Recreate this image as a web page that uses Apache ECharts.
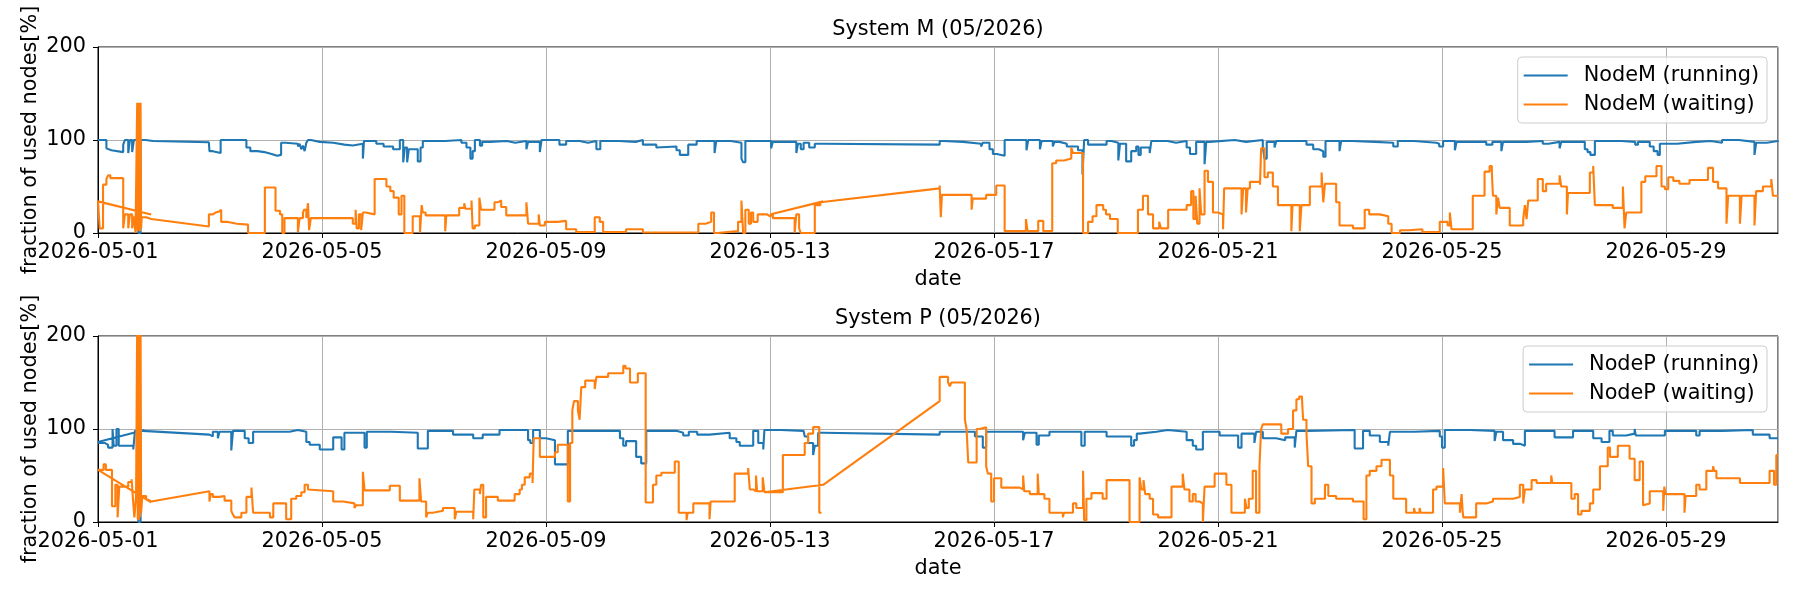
<!DOCTYPE html>
<html>
<head>
<meta charset="utf-8">
<script src="https://cdn.jsdelivr.net/npm/echarts@6.0.0/dist/echarts.min.js"></script>
<style>
  html, body { margin: 0; background: #fff; }
  #chart { width: 1800px; height: 600px; }
</style>
</head>
<body>
<div id="chart"></div>
<script>
// time in days since 2026-05-01 00:00, value in %
// [t, v] = step to v at t, [t, v, 'L'] = straight line to v (data gap), [t, null] = break
const mRun = [
  [0, 100], [0.15, 91], [0.18, 89], [0.24, 87], [0.45, 95], [0.48, 100], [0.54, 86], [0.57, 100],
  [0.61, 87], [0.64, 100], [0.72, 0], [0.76, 100], [0.85, 99], [0.98, 100], [1.98, 97.5, 'L'],
  [1.99, 88], [2.05, 86], [2.19, 100], [2.65, 92], [2.72, 88], [2.85, 87], [2.97, 85], [3.1, 83], [3.2, 84],
  [3.27, 97], [3.35, 96], [3.57, 93], [3.6, 96], [3.63, 90], [3.66, 94], [3.69, 88], [3.72, 97],
  [3.75, 100], [3.8, 98], [3.96, 97], [4.2, 95], [4.4, 94], [4.55, 96], [4.73, 80], [4.75, 99],
  [4.97, 96], [5.1, 93], [5.27, 90], [5.39, 100], [5.45, 76], [5.48, 92], [5.52, 76], [5.55, 90],
  [5.71, 77], [5.76, 92], [5.8, 99], [6.2, 100], [6.49, 97], [6.58, 92], [6.65, 80], [6.69, 88],
  [6.73, 100], [6.82, 94], [6.86, 98], [7.0, 99], [7.3, 97], [7.45, 99], [7.65, 90], [7.68, 98],
  [7.89, 87], [7.92, 100], [8.24, 95], [8.36, 99], [8.6, 97], [8.75, 99], [8.9, 90], [8.97, 99],
  [9.3, 98], [9.6, 100], [9.73, 95], [9.97, 92], [10.0, 93], [10.33, 89], [10.39, 84], [10.54, 95],
  [10.69, 99], [11.01, 86], [11.04, 99], [11.3, 97], [11.49, 80], [11.52, 76], [11.56, 99],
  [12.02, 91], [12.05, 98], [12.47, 86], [12.5, 96], [12.55, 90], [12.6, 97], [12.7, 92], [12.8, 96],
  [12.95, 94], [15.03, 95, 'L'],
  [15.03, 99], [15.1, 98], [15.45, 96], [15.77, 93], [15.8, 97], [15.92, 90], [15.98, 85], [16.05, 83],
  [16.19, 100], [16.58, 89], [16.61, 100], [16.82, 90], [16.85, 99], [17.05, 93], [17.08, 98],
  [17.17, 96], [17.3, 93], [17.5, 89], [17.58, 63], [17.61, 100], [17.68, 95], [18.01, 99], [18.1, 97],
  [18.22, 78], [18.25, 96], [18.36, 77], [18.45, 88], [18.54, 93], [18.58, 84], [18.62, 92],
  [18.78, 86], [18.81, 99], [19.1, 97], [19.25, 99], [19.44, 92], [19.5, 85], [19.61, 98], [19.76, 74],
  [19.79, 98], [19.85, 100], [20.3, 98], [20.5, 100], [20.8, 92], [20.83, 80], [20.87, 98], [21.01, 92],
  [21.04, 99], [21.58, 95], [21.7, 90], [21.8, 88], [21.88, 82], [21.92, 99], [22.17, 88], [22.2, 99],
  [22.4, 98], [22.8, 97], [23.13, 93], [23.21, 99], [23.5, 97], [23.9, 96], [23.95, 93], [24.02, 99],
  [24.23, 89], [24.26, 98], [24.79, 95], [24.9, 98], [25.06, 88], [25.09, 98], [25.5, 99], [25.8, 96],
  [25.9, 98], [26.1, 91], [26.13, 98], [26.55, 90], [26.6, 87], [26.65, 84], [26.73, 99], [27.2, 98],
  [27.45, 95], [27.5, 98], [27.71, 93], [27.78, 88], [27.85, 84], [27.89, 96], [28.2, 98], [28.54, 99],
  [28.8, 97], [29.0, 100], [29.3, 98], [29.58, 84], [29.61, 97], [29.8, 99], [30, 98]
];

const mWait = [
  [0, 34], [0.95, 20, 'L'], [0.95, null],
  [0, 35], [0.03, 5], [0.09, 52], [0.15, 58], [0.18, 62], [0.22, 59], [0.45, 5], [0.48, 20], [0.54, 5],
  [0.57, 20], [0.61, 5], [0.64, 18], [0.67, 0],
  [0.70, 140], [0.71, 2], [0.72, 140], [0.73, 3], [0.74, 140], [0.75, 2], [0.76, 140], [0.77, 5],
  [0.78, 17], [0.86, 15], [0.95, 16], [1.98, 7, 'L'],
  [1.98, 20], [2.05, 22], [2.1, 23], [2.16, 25], [2.2, 12], [2.3, 10], [2.48, 9], [2.68, 0],
  [2.98, 49], [3.17, 24], [3.25, 20], [3.29, 0], [3.33, 16], [3.57, 1], [3.6, 16], [3.66, 22],
  [3.68, 25], [3.72, 16], [3.75, 32], [3.77, 3], [3.8, 16], [4.55, 10], [4.6, 25], [4.62, 5],
  [4.66, 20], [4.7, 3], [4.73, 22], [4.78, 20], [4.94, 58], [5.15, 50], [5.22, 45], [5.28, 38],
  [5.37, 20], [5.42, 40], [5.47, 0], [5.62, 18], [5.75, 0], [5.78, 30], [5.8, 22], [5.85, 19],
  [6.2, 2], [6.22, 19], [6.45, 27], [6.54, 32], [6.56, 26], [6.67, 35], [6.69, 5], [6.73, 8],
  [6.81, 38], [6.84, 25], [7.08, 33], [7.14, 35], [7.2, 28], [7.29, 19], [7.65, 33], [7.68, 10],
  [7.87, 20], [7.89, 8], [7.98, 12], [8.21, 13], [8.36, 4], [8.54, 1], [8.87, 17], [8.96, 12],
  [9.02, 1], [9.43, 4], [9.73, 0.5], [10.72, 10], [10.85, 12], [10.95, 22], [11.0, 0], [11.06, 2],
  [11.43, 12], [11.49, 35], [11.52, 0], [11.56, 25], [11.62, 10], [11.66, 22], [11.7, 12],
  [11.78, 20], [11.95, 18], [12.0, 20], [12.05, 16], [12.44, 0], [12.47, 20], [12.52, 5], [12.55, 0],
  [12.8, 30], [12.9, 33], [15.03, 48, 'L'],
  [15.03, 51], [15.05, 17], [15.07, 41], [15.6, 25], [15.62, 37], [15.86, 41], [16.04, 51],
  [16.19, 2], [16.57, 15], [16.6, 2], [16.79, 13], [16.88, 2], [17.04, 75], [17.11, 78], [17.25, 80],
  [17.38, 92], [17.41, 86], [17.59, 0], [17.68, 12], [17.76, 18], [17.83, 30], [17.95, 25], [18.0, 20],
  [18.07, 15], [18.21, 0], [18.57, 25], [18.66, 40], [18.75, 20], [18.84, 5], [18.95, 12], [18.98, 5],
  [19.11, 25], [19.44, 30], [19.52, 45], [19.56, 15], [19.6, 40], [19.63, 10], [19.67, 48], [19.7, 20],
  [19.76, 67], [19.82, 55], [19.91, 22], [20.0, 20], [20.09, 4], [20.11, 48], [20.42, 20], [20.45, 48],
  [20.5, 22], [20.53, 48], [20.57, 55], [20.75, 52], [20.77, 91], [20.83, 60], [20.89, 65], [20.98, 50],
  [21.07, 30], [21.31, 2], [21.33, 30], [21.46, 2], [21.49, 30], [21.64, 50], [21.85, 65], [21.88, 33],
  [21.91, 53], [22.11, 33], [22.17, 8], [22.41, 5], [22.62, 25], [22.7, 20], [22.89, 18], [23.04, 10],
  [23.1, 0], [23.25, 3], [23.4, 4], [23.65, 1], [23.96, 12], [24.1, 8], [24.14, 22], [24.17, 4],
  [24.55, 40], [24.76, 66], [24.85, 72], [24.89, 65], [24.91, 40], [24.97, 20], [25.0, 38], [25.03, 27],
  [25.21, 8], [25.45, 15], [25.48, 30], [25.51, 15], [25.54, 35], [25.71, 58], [25.8, 45], [25.86, 53],
  [26.1, 62], [26.13, 50], [26.23, 20], [26.25, 43], [26.64, 65], [26.7, 72], [26.73, 30], [27.05, 27],
  [27.23, 50], [27.26, 5], [27.29, 22], [27.56, 55], [27.63, 61], [27.83, 72], [27.92, 50], [27.98, 47],
  [28.04, 60], [28.13, 56], [28.24, 53], [28.42, 57], [28.75, 70], [28.84, 55], [28.93, 48], [29.08, 10],
  [29.11, 40], [29.32, 10], [29.35, 40], [29.58, 8], [29.61, 45], [29.73, 50], [29.88, 58], [29.91, 40],
  [30, 40], [30, null],
  [12.0, 20], [12.95, 34, 'L']
];

const pRun = [
  [0, 86], [0.83, 99, 'L'], [0.83, null],
  [0, 85], [0.12, 83], [0.18, 80], [0.26, 100], [0.28, 82], [0.33, 100], [0.37, 82], [0.63, 78],
  [0.66, 98], [0.72, 0], [0.76, 98], [0.8, 100], [0.83, 99], [1.99, 94, 'L'],
  [1.99, 92], [2.05, 97], [2.14, 90], [2.17, 97], [2.38, 77], [2.41, 98], [2.62, 90], [2.69, 85], [2.77, 97],
  [3.42, 99], [3.57, 97], [3.72, 86], [3.78, 83], [3.96, 78], [4.2, 91], [4.35, 78], [4.4, 96],
  [4.76, 80], [4.8, 97], [5.24, 96], [5.71, 79], [5.89, 98], [6.34, 94], [6.7, 90], [6.87, 94],
  [7.17, 99], [7.68, 88], [7.72, 85], [7.77, 99], [7.89, 90], [8.0, 88], [8.16, 62], [8.39, 98],
  [9.32, 90], [9.38, 82], [9.43, 87], [9.61, 70], [9.7, 63], [9.79, 98], [10.33, 96], [10.45, 93],
  [10.55, 97], [10.7, 94], [10.92, 96], [11.28, 90], [11.4, 86], [11.46, 82], [11.7, 98], [11.79, 85],
  [11.88, 78], [11.9, 99], [12.2, 98], [12.6, 97], [12.62, 92], [12.68, 85], [12.77, 72], [12.8, 82],
  [12.86, 96], [12.95, 96], [15.03, 94, 'L'],
  [15.03, 97], [15.66, 92], [15.8, 80], [15.86, 97], [16.52, 88], [16.55, 96], [16.76, 83], [16.8, 93],
  [16.99, 97], [17.56, 82], [17.62, 97], [18.01, 92], [18.45, 82], [18.5, 88], [18.55, 95], [18.6, 97],
  [18.9, 99], [19.1, 97], [19.44, 88], [19.55, 82], [19.61, 78], [19.73, 97], [20.03, 93], [20.36, 80],
  [20.42, 95], [20.65, 85], [20.68, 97], [20.8, 90], [21.04, 88], [21.2, 91], [21.37, 80], [21.4, 98],
  [21.6, 99], [22.44, 79], [22.59, 98], [22.71, 93], [22.89, 86], [23.04, 82], [23.07, 97], [23.5, 98],
  [23.96, 92], [24.0, 80], [24.05, 99], [24.5, 98], [24.94, 87], [24.97, 97], [25.09, 88], [25.27, 84],
  [25.4, 82], [25.48, 98], [26.01, 91], [26.34, 98], [26.7, 90], [26.85, 86], [26.99, 98], [27.05, 93],
  [27.29, 95], [27.44, 100], [27.46, 93], [27.98, 98], [28.54, 93], [28.6, 98], [29.0, 99], [29.55, 94],
  [29.85, 90], [30, 90]
];

const pWait = [
  [0, 56], [0.95, 21, 'L'], [0.95, null],
  [0, 56], [0.1, 62], [0.14, 56], [0.25, 17], [0.31, 40], [0.35, 5], [0.38, 38], [0.54, 43], [0.6, 46],
  [0.63, 20], [0.65, 5], [0.68, 28],
  [0.70, 215], [0.71, 3], [0.72, 215], [0.73, 2], [0.74, 215], [0.75, 5], [0.76, 215], [0.77, 10],
  [0.79, 28], [0.86, 24], [0.9, 22], [0.95, 21], [1.99, 33, 'L'],
  [1.99, 22], [2.01, 30], [2.05, 27], [2.17, 28], [2.26, 23], [2.38, 12], [2.41, 8], [2.44, 5],
  [2.56, 10], [2.65, 27], [2.74, 37], [2.77, 10], [3.07, 5], [3.13, 20], [3.36, 3], [3.45, 25],
  [3.54, 28], [3.63, 32], [3.69, 40], [3.75, 35], [3.78, 33], [4.2, 22], [4.38, 20], [4.58, 15],
  [4.61, 18], [4.73, 54], [4.76, 34], [5.21, 39], [5.39, 23], [5.74, 47], [5.77, 22], [5.86, 5],
  [5.89, 10], [5.98, 12], [6.16, 15], [6.37, 3], [6.4, 11], [6.7, 3], [6.72, 35], [6.82, 30],
  [6.84, 40], [6.88, 5], [6.93, 27], [7.14, 23], [7.44, 30], [7.53, 35], [7.57, 40], [7.62, 48],
  [7.71, 52], [7.76, 42], [7.78, 90], [7.89, 70], [8.16, 75], [8.21, 83], [8.39, 22], [8.43, 85],
  [8.47, 120], [8.5, 130], [8.57, 120], [8.6, 110], [8.63, 145], [8.7, 152], [8.87, 143], [8.9, 156],
  [9.11, 160], [9.38, 168], [9.42, 165], [9.5, 150], [9.64, 160], [9.78, 21], [9.91, 40], [9.97, 50],
  [10.06, 53], [10.3, 65], [10.37, 10], [10.51, 2], [10.53, 10], [10.63, 20], [10.92, 3], [10.94, 22],
  [11.37, 52], [11.61, 58], [11.64, 35], [11.7, 33], [11.75, 50], [11.77, 33], [11.87, 48], [11.9, 32],
  [11.93, 32], [12.95, 40, 'L'], [15.03, 130, 'L'],
  [15.03, 156], [15.18, 150], [15.21, 146], [15.24, 150], [15.48, 110], [15.51, 100], [15.54, 64],
  [15.69, 100], [15.74, 102], [15.86, 60], [15.89, 52], [15.95, 22], [16.0, 47], [16.13, 37],
  [16.46, 35], [16.52, 50], [16.54, 33], [16.64, 30], [16.78, 52], [16.8, 30], [16.9, 25], [16.99, 10],
  [17.23, 5], [17.25, 10], [17.41, 20], [17.47, 15], [17.59, 55], [17.61, 2], [17.65, 25], [17.74, 31],
  [17.94, 25], [18.01, 45], [18.42, 0], [18.6, 48], [18.63, 35], [18.67, 45], [18.7, 30], [18.78, 25],
  [18.84, 8], [18.93, 5], [19.17, 38], [19.37, 52], [19.4, 35], [19.49, 22], [19.55, 30], [19.6, 22],
  [19.67, 20], [19.73, 0], [19.76, 38], [19.94, 52], [20.15, 40], [20.24, 10], [20.48, 25], [20.51, 15],
  [20.55, 25], [20.62, 55], [20.68, 10], [20.74, 60], [20.77, 100], [20.8, 105], [21.13, 95],
  [21.25, 100], [21.34, 120], [21.4, 132], [21.45, 135], [21.5, 132], [21.52, 110], [21.58, 95],
  [21.61, 60], [21.67, 20], [21.73, 25], [21.91, 40], [21.97, 28], [22.11, 25], [22.41, 22], [22.6, 3],
  [22.65, 50], [22.71, 55], [22.83, 60], [22.92, 67], [23.07, 50], [23.13, 25], [23.36, 10], [23.5, 15],
  [23.52, 10], [23.6, 15], [23.62, 10], [23.84, 35], [23.9, 38], [24.02, 58], [24.05, 20], [24.32, 10],
  [24.35, 30], [24.37, 10], [24.38, 5], [24.61, 20], [24.79, 22], [24.91, 25], [25.27, 27], [25.39, 40],
  [25.45, 20], [25.48, 35], [25.6, 45], [25.69, 42], [25.95, 50], [25.97, 42], [26.31, 25], [26.37, 30],
  [26.43, 8], [26.49, 12], [26.64, 20], [26.7, 35], [26.82, 60], [26.96, 80], [27.0, 70], [27.14, 82],
  [27.35, 68], [27.44, 45], [27.53, 65], [27.59, 18], [27.62, 20], [27.71, 33], [27.95, 12], [27.97, 38],
  [27.99, 30], [28.33, 10], [28.35, 28], [28.54, 40], [28.6, 35], [28.72, 55], [28.84, 60], [28.86, 55],
  [28.9, 47], [29.32, 42], [29.85, 55], [29.93, 40], [29.97, 72], [30, 72], [30, null],
  [11.93, 32], [12.23, 72], [12.62, 85], [12.68, 95], [12.77, 102], [12.88, 10], [12.92, 10]
];

const titles = ['System M (05/2026)', 'System P (05/2026)'];
const legendNames = [
  ['NodeM (running)', 'NodeM (waiting)'],
  ['NodeP (running)', 'NodeP (waiting)']
];
const yTicks = { min: 0, max: 200, interval: 100 };

const FONT = 'DejaVu Sans';
const FS = 20.8;
const BLUE = '#1f77b4';
const ORANGE = '#ff7f0e';
const day0 = Date.UTC(2026, 4, 1);
const fmtDate = (v) => new Date(day0 + v * 86400000).toISOString().slice(0, 10);

// step points -> polyline points (horizontal then vertical)
function expand(pts) {
  const out = [];
  let prev = null;
  for (const p of pts) {
    const [t, v, kind] = p;
    if (v === null) { out.push([t, '-']); prev = null; continue; }
    if (prev && kind !== 'L') out.push([t, prev[1]]);
    out.push([t, v]);
    prev = p;
  }
  return out;
}

const txt = { fontFamily: FONT, fontSize: FS, color: '#000' };

const xAxisFor = (i) => ({
  type: 'value', gridIndex: i, min: 0, max: 30, interval: 4,
  name: 'date', nameLocation: 'middle', nameGap: 36, nameTextStyle: txt,
  axisLine: { show: true, lineStyle: { color: '#000', width: 1 } },
  axisTick: { show: true, length: 5, lineStyle: { color: '#000', width: 1 } },
  axisLabel: { ...txt, margin: 9, formatter: fmtDate, showMaxLabel: false },
  splitLine: { show: true, lineStyle: { color: '#b0b0b0', width: 1 } }
});

const yAxisFor = (i) => ({
  type: 'value', gridIndex: i, ...yTicks,
  name: 'fraction of used nodes[%]', nameLocation: 'middle', nameRotate: 90, nameGap: 57,
  nameMoveOverlap: false, nameTextStyle: txt,
  axisLine: { show: true, lineStyle: { color: '#000', width: 1 } },
  axisTick: { show: true, length: 5, lineStyle: { color: '#000', width: 1 } },
  axisLabel: { ...txt, margin: 12 },
  splitLine: { show: true, lineStyle: { color: '#b0b0b0', width: 1 } }
});

const lineSeries = (name, pts, color, i) => ({
  name, type: 'line', xAxisIndex: i, yAxisIndex: i, data: expand(pts),
  symbol: 'none', showSymbol: false, connectNulls: false, clip: true,
  lineStyle: { color, width: 2.1 }, itemStyle: { color },
  emphasis: { disabled: true }, silent: true
});

const legendFor = (names, top) => ({
  data: names, orient: 'vertical', right: 33, top,
  icon: 'rect', itemWidth: 44, itemHeight: 2, itemGap: 8,
  padding: [8, 8, 8, 6], backgroundColor: 'rgba(255,255,255,0.8)',
  borderColor: '#cccccc', borderWidth: 1, borderRadius: 4, selectedMode: false,
  textStyle: { ...txt, padding: [0, 0, 0, 11] }
});

const chart = echarts.init(document.getElementById('chart'));
chart.setOption({
  animation: false,
  textStyle: { fontFamily: FONT },
  title: [
    { text: titles[0], left: 938, top: 19, textAlign: 'center', padding: 0,
      textStyle: { ...txt, fontWeight: 'normal' } },
    { text: titles[1], left: 938, top: 308, textAlign: 'center', padding: 0,
      textStyle: { ...txt, fontWeight: 'normal' } }
  ],
  grid: [
    { left: 98, top: 47, width: 1680, height: 186, show: true, borderColor: '#000', borderWidth: 1, outerBoundsMode: 'none' },
    { left: 98, top: 336, width: 1680, height: 186, show: true, borderColor: '#000', borderWidth: 1, outerBoundsMode: 'none' }
  ],
  xAxis: [xAxisFor(0), xAxisFor(1)],
  yAxis: [yAxisFor(0), yAxisFor(1)],
  legend: [legendFor(legendNames[0], 57), legendFor(legendNames[1], 346)],
  series: [
    lineSeries(legendNames[0][0], mRun, BLUE, 0),
    lineSeries(legendNames[0][1], mWait, ORANGE, 0),
    lineSeries(legendNames[1][0], pRun, BLUE, 1),
    lineSeries(legendNames[1][1], pWait, ORANGE, 1)
  ]
});
</script>
</body>
</html>
